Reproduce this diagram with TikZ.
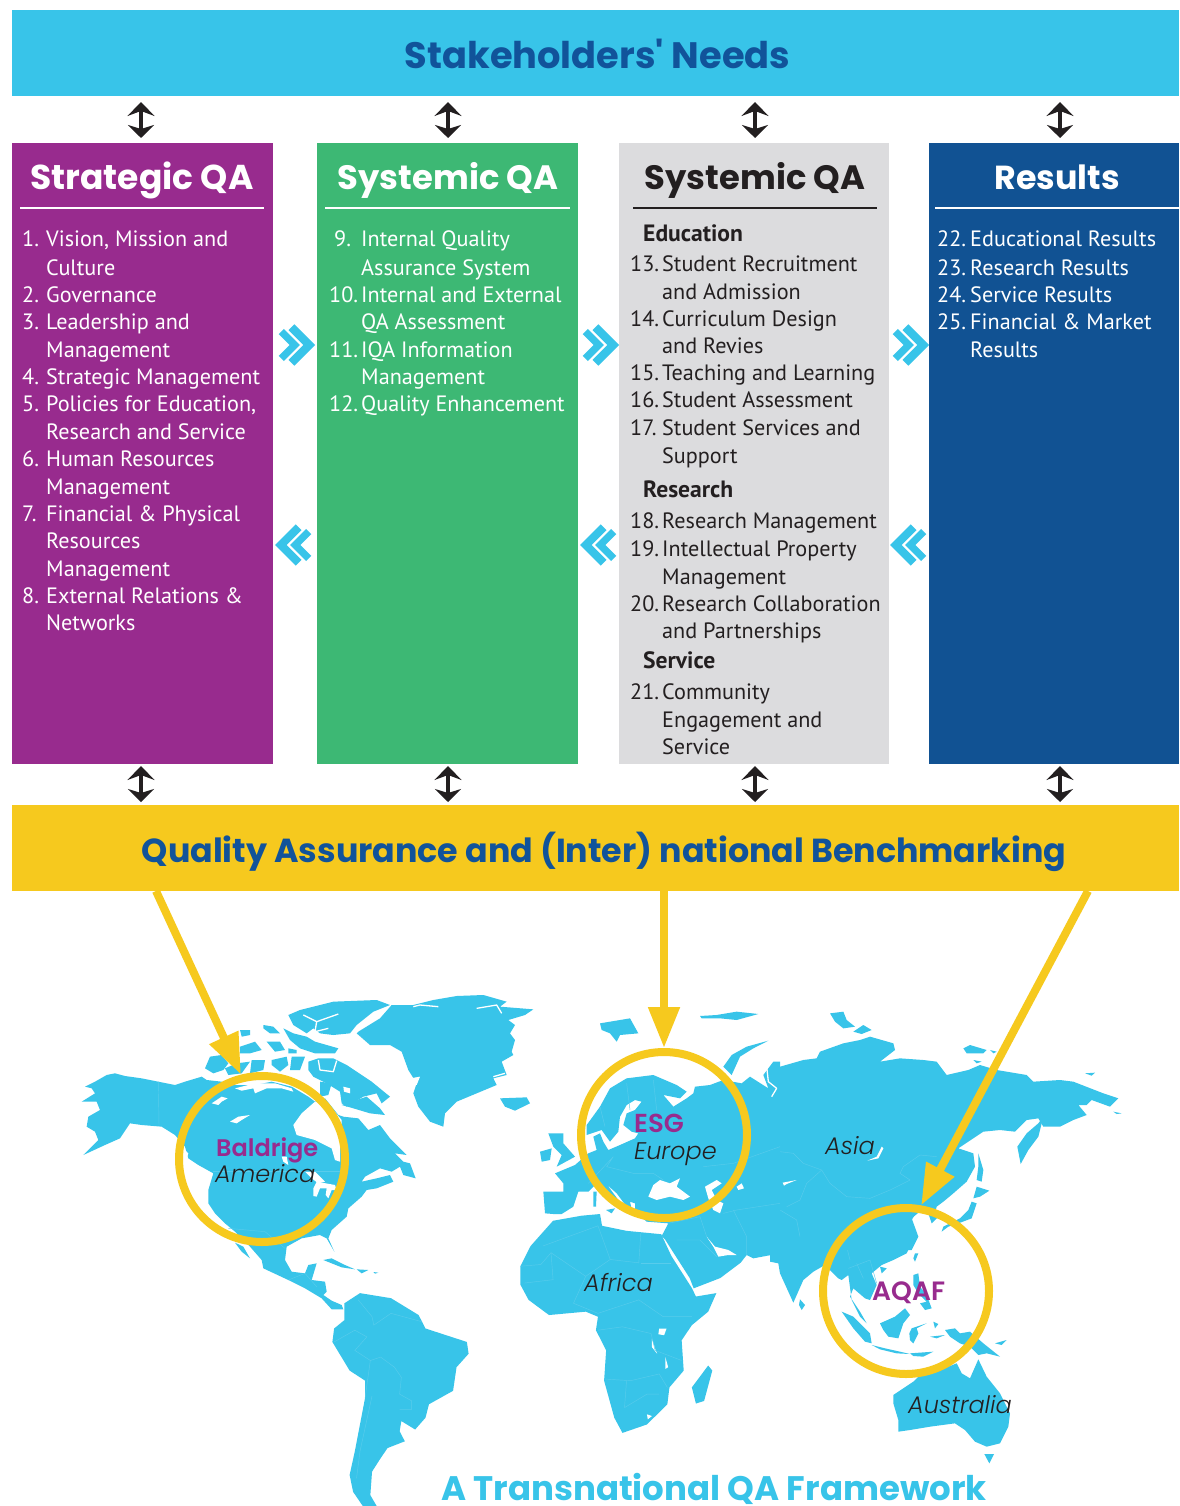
\documentclass[tikz,border=0pt]{standalone}
\usepackage{fontspec}
\usetikzlibrary{arrows.meta,shapes.geometric}
\setmainfont{PT Sans}
\newfontfamily\headf{Poppins}[UprightFont=* Bold,BoldFont=* Bold]
\newfontfamily\namef{Poppins}[UprightFont=* SemiBold,BoldFont=* SemiBold]
\newfontfamily\labf{Poppins}[UprightFont=* Light,ItalicFont=* Light Italic]
\definecolor{cyanb}{HTML}{38C4E9}
\definecolor{yellowb}{HTML}{F6C91E}
\definecolor{purpleb}{HTML}{982B8E}
\definecolor{greenb}{HTML}{3DB874}
\definecolor{greyb}{HTML}{DCDCDE}
\definecolor{navyb}{HTML}{115293}
\definecolor{titleb}{HTML}{11539A}
\definecolor{inkb}{HTML}{231F20}
\definecolor{borderb}{HTML}{58CCEC}
\tikzset{
  bar/.style={anchor=north west,minimum width=1167pt,minimum height=86pt,inner sep=0pt,outer sep=0pt},
  colbox/.style={anchor=north west,minimum height=621pt,inner sep=0pt,outer sep=0pt},
  barhead/.style={text=titleb,anchor=base,inner sep=0pt},
  colhead/.style={anchor=base,inner sep=0pt},
  bodytext/.style={anchor=base west,inner sep=0pt,font=\fontsize{22.2}{27}\selectfont},
  subhead/.style={bodytext,font=\bfseries\fontsize{23.6}{27}\selectfont},
  updown/.style={line width=4.5pt,draw=inkb,shorten >=5pt,shorten <=6pt,
     {Stealth[length=14pt,width=27pt,inset=5pt]}-{Stealth[length=13pt,width=26pt,inset=4pt]}},
  updownlow/.style={updown,shorten >=3pt,shorten <=2pt},
  headrule/.style={line width=2.6pt},
  ring/.style={circle,draw=yellowb,line width=8pt,minimum size=166pt,inner sep=0pt,fill=none},
  bigarrow/.style={draw=yellowb,line width=8pt,-{Triangle[length=41pt,width=30pt,fill=yellowb]}},
  land/.style={fill=cyanb},
  sea/.style={fill=white},
  inlet/.style={draw=white,line width=1.3pt,line join=round},
  border/.style={draw=borderb,line width=.45pt},
  chev/.style={draw=cyanb,line join=miter},
  mapname/.style={text=purpleb,anchor=base west,inner sep=0pt},
  region/.style={font=\labf\itshape\fontsize{24}{28}\selectfont,text=inkb,anchor=base west,inner sep=0pt},
  maptitle/.style={font=\headf\fontsize{34}{38}\selectfont,text=cyanb,anchor=base west,inner sep=0pt,text depth=0pt},
  crop/.style={x=0.33333pt,y=-0.33333pt},
}
\newcommand\bline[4]{\node[bodytext] (#1) at (#2,#3+8) {#4};}
\newcommand\chevrons[3]{\begin{scope}[shift={(#1,#2)},x=#3pt]
  \draw[chev,line width=7.3pt] (-33.7,-13.5) -- (-20.2,0) -- (-33.7,13.5);
  \draw[chev,line width=8.2pt] (-23.6,-17.8) -- (-5.8,0) -- (-23.6,17.8);
\end{scope}}
\begin{document}
\begin{tikzpicture}[x=1pt,y=-1pt]
\useasboundingbox (0,0) rectangle (1179,1506);
\fill[white] (0,0) rectangle (1179,1506);

% ---------- bars and columns
\node[bar,fill=cyanb] (stake) at (12,10) {};
\node[barhead,font=\headf\fontsize{36.8}{40}\selectfont] (staketext) at (597.5,69) {Stakeholders' Needs};
\node[bar,fill=yellowb] (qa) at (12,805) {};
\node[barhead,font=\headf\fontsize{33.3}{40}\selectfont] (qatext) at (604,862.5) {Quality Assurance and (Inter) national Benchmarking};
\node[colbox,fill=purpleb,minimum width=261pt] (col1) at (12,143) {};
\node[colbox,fill=greenb,minimum width=261pt] (col2) at (317,143) {};
\node[colbox,fill=greyb,minimum width=270pt] (col3) at (619,143) {};
\node[colbox,fill=navyb,minimum width=250pt] (col4) at (929,143) {};

\node[colhead,text=white,font=\headf\fontsize{34.5}{38}\selectfont] (h1) at (142,190) {Strategic QA};
\node[colhead,text=white,font=\headf\fontsize{33.8}{38}\selectfont] (h2) at (448,190) {Systemic QA};
\node[colhead,text=inkb,font=\headf\fontsize{33.8}{38}\selectfont] (h3) at (755,190) {Systemic QA};
\node[colhead,text=white,font=\headf\fontsize{33.3}{38}\selectfont] (h4) at (1057,190) {Results};
\draw[headrule,white] (20,208) -- (264,208);
\draw[headrule,white] (325,208) -- (570,208);
\draw[headrule,inkb] (633,208) -- (877,208);
\draw[headrule,white] (935,208) -- (1179,208);

% ---------- column 1
\begin{scope}[text=white]
\bline{a1n}{22}{239}{1.} \bline{a1}{46}{239}{Vision, Mission and}
\bline{a1b}{46}{267}{Culture}
\bline{a2n}{22}{294}{2.} \bline{a2}{46}{294}{Governance}
\bline{a3n}{22}{321}{3.} \bline{a3}{46}{321}{Leadership and}
\bline{a3b}{46}{349}{Management}
\bline{a4n}{22}{376}{4.} \bline{a4}{46}{376}{Strategic Management}
\bline{a5n}{22}{403}{5.} \bline{a5}{46}{403}{Policies for Education,}
\bline{a5b}{46}{431}{Research and Service}
\bline{a6n}{22}{458}{6.} \bline{a6}{46}{458}{Human Resources}
\bline{a6b}{46}{486}{Management}
\bline{a7n}{22}{513}{7.} \bline{a7}{46}{513}{Financial \& Physical}
\bline{a7b}{46}{540}{Resources}
\bline{a7c}{46}{568}{Management}
\bline{a8n}{22}{595}{8.} \bline{a8}{46}{595}{External Relations \&}
\bline{a8b}{46}{622}{Networks}
% ---------- column 2
\bline{b9n}{334}{239}{9.} \bline{b9}{361}{239}{Internal Quality}
\bline{b9b}{361}{267}{Assurance System}
\bline{b10n}{329}{294}{10.} \bline{b10}{361}{294}{Internal and External}
\bline{b10b}{361}{321}{QA Assessment}
\bline{b11n}{329}{349}{11.} \bline{b11}{361}{349}{IQA Information}
\bline{b11b}{361}{376}{Management}
\bline{b12n}{329}{403}{12.} \bline{b12}{361}{403}{Quality Enhancement}
% ---------- column 4
\bline{d22n}{937}{239}{22.} \bline{d22}{970}{239}{Educational Results}
\bline{d23n}{937}{267}{23.} \bline{d23}{970}{267}{Research Results}
\bline{d24n}{937}{294}{24.} \bline{d24}{970}{294}{Service Results}
\bline{d25n}{937}{321}{25.} \bline{d25}{970}{321}{Financial \& Market}
\bline{d25b}{970}{349}{Results}
\end{scope}
% ---------- column 3
\begin{scope}[text=inkb]
\node[subhead] (edu) at (643,242) {Education};
\bline{c13n}{630}{263}{13.} \bline{c13}{662}{263}{Student Recruitment}
\bline{c13b}{662}{291}{and Admission}
\bline{c14n}{630}{318}{14.} \bline{c14}{662}{318}{Curriculum Design}
\bline{c14b}{662}{345}{and Revies}
\bline{c15n}{630}{372}{15.} \bline{c15}{662}{372}{Teaching and Learning}
\bline{c16n}{630}{399}{16.} \bline{c16}{662}{399}{Student Assessment}
\bline{c17n}{630}{427}{17.} \bline{c17}{662}{427}{Student Services and}
\bline{c17b}{662}{455}{Support}
\node[subhead] (res) at (643,497) {Research};
\bline{c18n}{630}{520}{18.} \bline{c18}{662}{520}{Research Management}
\bline{c19n}{630}{548}{19.} \bline{c19}{662}{548}{Intellectual Property}
\bline{c19b}{662}{576}{Management}
\bline{c20n}{630}{603}{20.} \bline{c20}{662}{603}{Research Collaboration}
\bline{c20b}{662}{630}{and Partnerships}
\node[subhead] (ser) at (643,668) {Service};
\bline{c21n}{630}{691}{21.} \bline{c21}{662}{691}{Community}
\bline{c21b}{662}{719}{Engagement and}
\bline{c21c}{662}{746}{Service}
\end{scope}

% ---------- double arrows
\draw[updown] ([xshift=-1.5pt]col1.north |- stake.south) -- ([xshift=-1.5pt]col1.north);
\draw[updown] ([xshift=.5pt]col2.north |- stake.south) -- ([xshift=.5pt]col2.north);
\draw[updown] ([xshift=1pt]col3.north |- stake.south) -- ([xshift=1pt]col3.north);
\draw[updown] ([xshift=6pt]col4.north |- stake.south) -- ([xshift=6pt]col4.north);
\draw[updownlow] ([xshift=-1.5pt]col1.south) -- ([xshift=-1.5pt]col1.south |- qa.north);
\draw[updownlow] ([xshift=.5pt]col2.south) -- ([xshift=.5pt]col2.south |- qa.north);
\draw[updownlow] ([xshift=1pt]col3.south) -- ([xshift=1pt]col3.south |- qa.north);
\draw[updownlow] ([xshift=6pt]col4.south) -- ([xshift=6pt]col4.south |- qa.north);

% ---------- chevrons
\chevrons{315}{345}{1}\chevrons{619}{345}{1}\chevrons{929}{345}{1}
\chevrons{275}{545}{-1}\chevrons{580}{545}{-1}\chevrons{890}{545}{-1}

% ---------- South America (first crop of the west)
\begin{scope}[shift={(60,980)},x=0.3448pt,y=-0.3367pt]
\fill[land] plot coordinates {(825,960)(870,930)(960,945)(1040,995)(1060,1035)(1180,1075)(1185,1110)(1150,1150)(1140,1220)(1070,1260)(1060,1300)(1030,1335)(990,1310)(985,1340)(1000,1370)(950,1390)(930,1420)(905,1460)(900,1530)(920,1565)(880,1565)(850,1520)(840,1470)(855,1400)(885,1240)(885,1190)(840,1160)(790,1075)(795,1035)(825,1010)} -- cycle;
\draw[border] plot coordinates {(885,1240)(900,1130)(930,1120)(970,1150)(990,1180)(985,1230)(1020,1250)(1020,1275)(985,1275)};
\draw[border] plot coordinates {(795,1075)(855,1040)(890,1060)(855,1100)(900,1130)};
\draw[border] plot coordinates {(905,1235)(870,1400)(860,1480)};
\draw[border] plot coordinates {(865,950)(905,1000)(910,1025)(960,990)(1050,1015)};
\end{scope}

% ---------- North America
\begin{scope}[shift={(75,1060)},crop]
\fill[land] plot coordinates {(20,125)(60,100)(50,85)(30,80)(60,65)(95,45)(120,40)(150,48)(200,55)(250,65)(300,75)(330,65)(380,50)(395,60)(440,65)(480,75)(540,75)(590,65)(650,80)(700,110)(720,125)(750,115)(790,165)(805,170)(850,175)(880,210)(915,195)(945,235)(995,285)(960,280)(985,305)(1005,310)(1022,355)(985,345)(975,320)(950,335)(915,325)(870,350)(860,365)(905,355)(945,345)(955,365)(905,385)(875,390)(860,410)(820,445)(815,470)(770,510)(760,535)(778,575)(755,535)(735,525)(680,535)(635,560)(630,600)(650,635)(690,640)(700,615)(725,610)(710,660)(750,665)(755,695)(745,705)(770,722)(800,735)(805,748)(770,748)(740,715)(690,685)(640,660)(565,625)(560,600)(525,560)(480,515)(450,490)(420,460)(400,430)(400,390)(415,340)(370,315)(340,295)(330,260)(300,225)(260,200)(200,195)(165,190)(135,235)(90,255)(25,285)(70,240)(60,215)(35,200)(40,170)(75,150)(65,125)} -- cycle;
\fill[sea] plot coordinates {(720,125)(680,160)(655,195)(665,225)(720,240)(770,265)(780,300)(795,305)(795,265)(800,230)(800,180)(775,150)(740,130)} -- cycle;
\fill[sea] plot coordinates {(480,85)(540,70)(600,70)(650,85)(655,95)(620,85)(575,85)(540,100)(535,85)(500,92)} -- cycle;
\fill[sea] plot coordinates {(410,130)(440,110)(458,115)(440,125)(430,135)} -- cycle;
\fill[sea] plot coordinates {(465,185)(490,170)(525,165)(500,180)(485,190)} -- cycle;
\fill[sea] plot coordinates {(620,290)(635,290)(640,315)(625,305)} -- cycle;
\fill[sea] plot coordinates {(690,335)(720,335)(745,360)(750,365)(730,370)(710,355)} -- cycle;
\fill[sea] plot coordinates {(715,385)(725,365)(780,375)(785,390)(770,390)(760,415)(752,405)(755,385)(735,385)(725,410)(715,408)} -- cycle;
\fill[sea] plot coordinates {(325,265)(340,280)(335,295)(325,280)} -- cycle;
\fill[land] plot coordinates {(480,548)(505,560)(525,595)(500,575)} -- cycle;
\fill[land] plot coordinates {(745,600)(770,595)(810,615)(840,628)(800,622)} -- cycle;
\fill[land] plot coordinates {(845,628)(880,630)(860,640)} -- cycle;
\fill[land] plot coordinates {(895,636)(910,638)(900,641)} -- cycle;
\draw[border] plot coordinates {(250,65)(252,195)};
\draw[border] plot coordinates {(415,335)(800,335)};
\draw[border] plot coordinates {(460,505)(570,515)(630,565)};
\draw[border] plot coordinates {(640,660)(690,640)(725,680)};
\end{scope}

% ---------- Arctic Canada, Greenland, Iceland
\begin{scope}[shift={(200,990)},crop]
\fill[land] plot coordinates {(475,125)(540,85)(575,45)(640,45)(700,30)(770,18)(850,15)(920,35)(900,50)(1000,58)(975,75)(925,90)(945,105)(930,130)(945,150)(935,185)(940,195)(905,215)(920,255)(880,265)(890,285)(830,310)(770,335)(735,370)(730,410)(690,395)(655,350)(640,310)(650,280)(625,240)(605,185)(570,165)(510,165)(470,130)} -- cycle;
\fill[land] plot coordinates {(265,75)(300,60)(400,35)(530,30)(570,45)(520,65)(470,105)(450,130)(400,135)(360,130)(340,115)(320,130)(280,105)} -- cycle;
\fill[land] plot coordinates {(250,115)(280,130)(320,140)(345,155)(415,175)(405,190)(345,190)(300,175)(270,150)} -- cycle;
\fill[land] plot coordinates {(190,105)(220,110)(240,130)(210,130)(190,115)} -- cycle;
\fill[land] plot coordinates {(120,120)(150,120)(150,135)(125,140)} -- cycle;
\fill[land] plot coordinates {(15,235)(30,200)(65,195)(85,220)(70,240)(40,250)} -- cycle;
\fill[land] plot coordinates {(75,235)(110,220)(150,215)(125,250)(85,255)} -- cycle;
\fill[land] plot coordinates {(155,210)(195,210)(190,240)(150,250)} -- cycle;
\fill[land] plot coordinates {(215,210)(260,200)(265,225)(240,245)(215,225)} -- cycle;
\fill[land] plot coordinates {(275,200)(315,200)(300,240)(270,240)} -- cycle;
\fill[land] plot coordinates {(120,170)(165,155)(185,180)(150,190)(120,190)} -- cycle;
\fill[land] plot coordinates {(200,155)(240,155)(255,180)(225,185)} -- cycle;
\fill[land] plot coordinates {(265,175)(290,180)(290,190)(265,190)} -- cycle;
\fill[land] plot coordinates {(325,215)(355,205)(400,205)(440,225)(470,245)(515,275)(570,320)(545,340)(530,310)(490,320)(440,350)(425,340)(420,305)(380,280)(340,260)(325,240)} -- cycle;
\fill[land] plot coordinates {(360,275)(395,280)(385,315)(360,320)} -- cycle;
\fill[land] plot coordinates {(425,345)(470,330)(500,320)(540,355)(555,375)(510,370)(460,355)} -- cycle;
\fill[land] plot coordinates {(900,325)(980,322)(990,340)(945,362)(915,350)} -- cycle;
\fill[sea] plot coordinates {(430,290)(450,295)(450,310)(432,305)} -- cycle;
\fill[sea] plot coordinates {(630,265)(660,260)(650,285)(632,278)} -- cycle;
\draw[inlet] plot coordinates {(310,75)(350,95)(415,72)};
\draw[inlet] plot coordinates {(350,95)(345,125)(385,115)};
\draw[inlet] plot coordinates {(355,210)(360,240)(400,245)(410,212)};
\draw[inlet] plot coordinates {(830,55)(890,45)(905,70)};
\draw[inlet] plot coordinates {(640,50)(660,45)(715,50)};
\draw[inlet] plot coordinates {(880,260)(915,250)};
\end{scope}

% ---------- Africa and Madagascar
\begin{scope}[shift={(500,980)},x=0.4082pt,y=-0.3367pt]
\fill[land] plot coordinates {(50,850)(75,790)(130,715)(200,700)(245,695)(250,730)(310,745)(395,755)(420,820)(470,915)(480,940)(530,930)(510,985)(470,1025)(445,1070)(450,1160)(415,1210)(410,1260)(360,1320)(300,1345)(280,1300)(255,1190)(260,1100)(235,1040)(240,1000)(210,985)(120,995)(70,950)(50,905)} -- cycle;
\fill[land] plot coordinates {(510,1145)(520,1160)(500,1250)(480,1258)(470,1210)} -- cycle;
\fill[sea] plot coordinates {(390,1035)(408,1035)(402,1055)(388,1052)} -- cycle;
\fill[sea] plot coordinates {(372,1065)(380,1095)(385,1110)(372,1090)} -- cycle;
\fill[sea] plot coordinates {(405,1120)(412,1150)(405,1155)} -- cycle;
\fill[sea] plot coordinates {(360,1290)(372,1295)(362,1305)} -- cycle;
\draw[border] plot coordinates {(50,850)(100,845)(125,810)(210,880)(270,830)(340,840)(345,750)};
\draw[border] plot coordinates {(105,790)(240,730)(270,830)};
\draw[border] plot coordinates {(125,810)(130,890)(60,900)};
\draw[border] plot coordinates {(345,840)(420,840)};
\draw[border] plot coordinates {(210,880)(180,960)(240,990)(340,950)(400,1000)(470,1000)};
\draw[border] plot coordinates {(240,1040)(300,1030)(370,1050)(380,1100)(445,1130)};
\draw[border] plot coordinates {(255,1185)(320,1190)(390,1170)(410,1210)};
\draw[border] plot coordinates {(310,1190)(305,1270)(360,1230)(390,1230)};
\end{scope}

% ---------- Southern and south-east Asia, Australia
\begin{scope}[shift={(770,1200)},crop]
\fill[land] plot coordinates {(0,185)(25,190)(30,220)(70,308)(100,240)(130,215)(165,195)(205,235)(215,240)(235,225)(245,300)(270,350)(290,370)(270,335)(240,290)(250,265)(285,295)(300,300)(320,255)(305,220)(335,195)(370,180)(410,160)(440,100)(425,60)(440,35)(420,0)(0,0)} -- cycle;
\fill[land] plot coordinates {(90,298)(105,315)(95,330)(87,315)} -- cycle;
\fill[land] plot coordinates {(215,335)(250,350)(300,400)(305,430)(285,425)(250,385)} -- cycle;
\fill[land] plot coordinates {(305,435)(345,445)(390,455)(420,462)(380,460)(330,448)} -- cycle;
\fill[land] plot coordinates {(420,460)(490,455)(460,470)(430,468)} -- cycle;
\fill[land] plot coordinates {(330,370)(375,350)(405,325)(420,345)(400,370)(385,415)(355,410)(340,390)} -- cycle;
\fill[land] plot coordinates {(425,385)(470,370)(440,385)(445,400)(430,430)(420,420)(418,400)} -- cycle;
\fill[land] plot coordinates {(430,225)(445,220)(450,260)(470,285)(485,325)(465,330)(450,310)(470,305)(445,280)(430,255)} -- cycle;
\fill[land] plot coordinates {(435,160)(445,160)(435,185)(430,175)} -- cycle;
\fill[land] plot coordinates {(330,200)(350,205)(335,220)} -- cycle;
\fill[land] plot coordinates {(525,390)(555,385)(570,400)(600,395)(640,430)(690,470)(650,460)(625,465)(600,440)(570,430)(540,410)} -- cycle;
\fill[land] plot coordinates {(675,430)(710,420)(695,435)} -- cycle;
\fill[land] plot coordinates {(490,365)(505,372)(495,385)} -- cycle;
\fill[land] plot coordinates {(480,410)(525,405)(500,415)} -- cycle;
\fill[land] plot coordinates {(370,585)(430,545)(450,525)(510,510)(560,490)(575,520)(600,535)(625,478)(650,530)(690,580)(720,640)(715,680)(690,730)(650,740)(615,725)(585,690)(555,670)(480,680)(420,690)(385,695)(385,660)(370,610)} -- cycle;
\fill[land] plot coordinates {(643,762)(672,762)(658,790)} -- cycle;
\draw[border] plot coordinates {(0,45)(40,70)(90,65)(90,100)(130,130)(180,130)(230,140)(240,180)};
\draw[border] plot coordinates {(235,205)(300,180)(320,250)};
\draw[border] plot coordinates {(260,190)(280,235)};
\end{scope}

% ---------- East Asia
\begin{scope}[shift={(780,1010)},crop]
\fill[land] plot coordinates {(0,170)(70,150)(110,145)(120,125)(190,100)(240,90)(270,80)(340,100)(345,120)(300,155)(360,145)(430,150)(470,155)(500,195)(565,180)(600,165)(650,180)(740,195)(760,215)(840,210)(880,215)(970,250)(1015,265)(990,290)(935,270)(920,285)(895,285)(920,315)(880,330)(840,350)(790,350)(775,325)(740,330)(705,365)(660,360)(610,365)(535,415)(580,430)(585,470)(560,515)(520,550)(490,575)(470,590)(465,610)(480,615)(455,640)(445,610)(425,600)(395,625)(415,680)(395,720)(0,720)} -- cycle;
\fill[land] plot coordinates {(790,320)(775,380)(745,420)(722,462)(712,410)(740,370)(775,340)} -- cycle;
\fill[land] plot coordinates {(595,430)(610,480)(605,515)(590,510)(595,470)} -- cycle;
\fill[land] plot coordinates {(590,530)(628,542)(600,560)(580,565)} -- cycle;
\fill[land] plot coordinates {(575,575)(590,580)(575,625)(535,640)(505,650)(485,665)(490,650)(540,625)(565,600)} -- cycle;
\fill[land] plot coordinates {(550,115)(570,105)(620,120)(610,130)(560,130)} -- cycle;
\fill[land] plot coordinates {(580,150)(605,155)(590,160)} -- cycle;
\fill[land] plot coordinates {(630,120)(650,125)(640,130)} -- cycle;
\fill[land] plot coordinates {(150,10)(190,5)(200,30)(225,50)(190,55)(165,35)} -- cycle;
\fill[land] plot coordinates {(220,65)(250,45)(275,60)(245,72)} -- cycle;
\fill[land] plot coordinates {(915,190)(945,188)(935,197)} -- cycle;
\fill[land] plot coordinates {(1000,305)(1025,310)(1010,312)} -- cycle;
\fill[sea] plot coordinates {(262,452)(290,440)(305,410)(310,415)(295,445)} -- cycle;
\fill[sea] plot coordinates {(8,518)(50,510)(20,522)(12,527)} -- cycle;
\draw[border] plot coordinates {(0,425)(40,430)(70,460)(125,480)(150,520)(200,560)(270,565)(330,540)(390,510)(360,490)(370,470)(420,435)(470,440)};
\draw[border] plot coordinates {(125,480)(80,520)(60,570)(20,590)};
\draw[border] plot coordinates {(0,600)(50,630)(60,680)};
\end{scope}

% ---------- Western Eurasia, Europe and the Middle East
\begin{scope}[shift={(520,1010)},crop]
\fill[land] plot coordinates {(70,545)(130,545)(130,520)(105,490)(165,465)(205,430)(230,420)(220,380)(240,370)(250,395)(265,420)(300,405)(345,385)(355,370)(335,365)(310,345)(320,310)(345,300)(365,275)(345,270)(320,285)(300,320)(295,365)(270,395)(245,360)(200,375)(200,345)(240,290)(270,235)(320,205)(400,195)(470,225)(500,245)(480,265)(430,255)(460,290)(500,265)(520,250)(525,230)(570,225)(610,210)(665,220)(690,200)(745,235)(730,195)(760,155)(780,155)(780,730)(700,745)(680,735)(662,758)(601,804)(521,835)(509,804)(454,718)(435,688)(425,678)(445,640)(380,635)(345,605)(345,580)(330,575)(338,610)(320,590)(290,550)(262,525)(295,570)(315,590)(300,600)(280,570)(245,535)(225,525)(205,545)(175,545)(160,590)(125,612)(100,612)(75,610)} -- cycle;
\fill[sea] plot coordinates {(385,560)(400,525)(420,510)(450,520)(480,505)(470,530)(510,560)(490,570)(450,560)(410,570)} -- cycle;
\fill[sea] plot coordinates {(555,530)(590,510)(605,520)(575,540)(590,570)(610,580)(600,610)(580,600)(565,565)} -- cycle;
\fill[sea] plot coordinates {(560,680)(585,710)(625,720)(650,735)(625,735)(595,740)(580,710)} -- cycle;
\fill[sea] plot coordinates {(650,530)(665,520)(672,535)(655,540)} -- cycle;
\fill[land] plot coordinates {(85,370)(130,370)(130,400)(165,440)(110,470)(125,435)(100,410)} -- cycle;
\fill[land] plot coordinates {(60,425)(95,415)(90,450)(65,455)} -- cycle;
\fill[land] plot coordinates {(240,40)(330,25)(355,70)(300,75)(290,95)(270,70)(245,60)} -- cycle;
\fill[land] plot coordinates {(540,18)(590,15)(650,5)(715,12)(650,30)(600,25)(545,25)} -- cycle;
\fill[land] plot coordinates {(745,92)(680,110)(635,135)(610,170)(635,195)(660,140)(700,115)} -- cycle;
\fill[land] plot coordinates {(220,545)(230,545)(228,590)(220,590)} -- cycle;
\fill[land] plot coordinates {(258,600)(285,595)(275,610)} -- cycle;
\draw[inlet] plot coordinates {(740,170)(745,215)(770,235)(755,260)};
\draw[border] plot coordinates {(205,520)(280,440)(260,470)(340,490)(400,490)(430,510)};
\draw[border] plot coordinates {(240,290)(255,350)};
\draw[border] plot coordinates {(320,220)(330,300)};
\draw[border] plot coordinates {(400,210)(410,300)};
\draw[border] plot coordinates {(550,470)(640,460)(780,410)};
\draw[border] plot coordinates {(610,610)(650,600)(780,580)};
\draw[border] plot coordinates {(445,640)(540,620)(560,680)};
\draw[border] plot coordinates {(640,600)(680,680)(680,735)};
\draw[border] plot coordinates {(470,690)(540,690)(590,740)};
\end{scope}

% ---------- map labels
\node[region] (america) at (215,1182) {America};
\node[mapname,font=\namef\fontsize{24}{28}\selectfont] (baldrige) at (216,1156) {Baldrige};
\node[mapname,font=\namef\fontsize{26}{28}\selectfont] (esg) at (634,1132) {ESG};
\node[region] (europe) at (634,1159) {Europe};
\node[region] (asia) at (825,1154) {Asia};
\node[region] (africa) at (584,1291) {Africa};
\node[mapname,font=\namef\fontsize{26.5}{28}\selectfont] (aqaf) at (872,1300) {AQAF};
\node[region] (australia) at (908,1413) {Australia};
\node[maptitle] (maptitletext) at (441,1500) {A Transnational QA Framework};

% ---------- rings and arrows
\node[ring] (ringam) at (262,1159) {};
\node[ring] (ringeu) at (664,1135) {};
\node[ring] (ringas) at (906,1291) {};
\coordinate (qafrom1) at (156,891);
\coordinate (qafrom2) at (664,891);
\coordinate (qafrom3) at (1088,891);
\draw[bigarrow] (qafrom1) -- (ringam.104);
\draw[bigarrow] (qafrom2) -- (ringeu.90);
\draw[bigarrow] (qafrom3) -- (ringas.80);
\end{tikzpicture}
\end{document}
